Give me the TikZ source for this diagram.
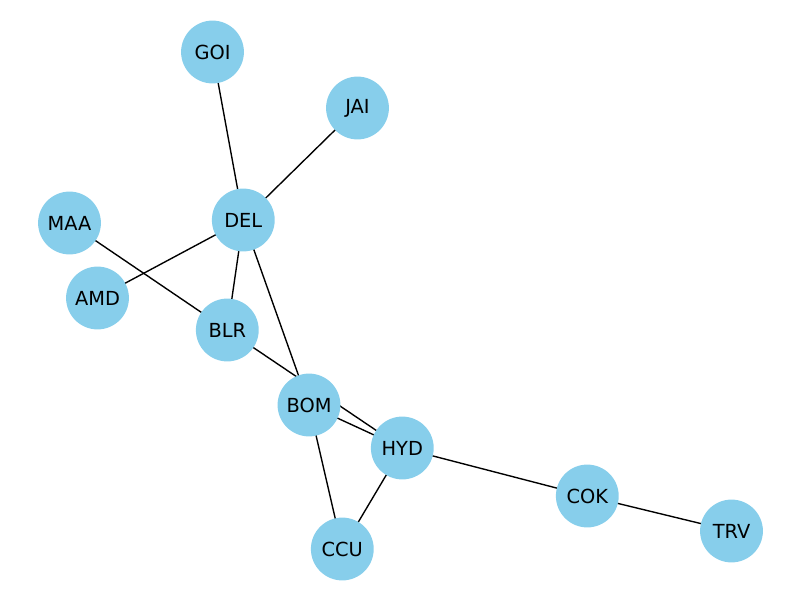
\documentclass[tikz,border=0pt]{standalone}
\usepackage{fontspec}
\setmainfont{DejaVu Sans}
\usetikzlibrary{backgrounds}
\definecolor{skyblue}{HTML}{87CEEB}

\begin{document}
\begin{tikzpicture}[x=0.254mm,y=-0.254mm]
				\tikzstyle{every node}=[font=\fontsize{14}{16}\selectfont]
				\tikzstyle{city}=[circle, fill=skyblue, minimum size=45.4pt, inner sep=0pt]
				\tikzstyle{route}=[line width=1pt, color=black]
				
				\useasboundingbox (0,0) rectangle (800,600);
				
				% airports
				\node[city] (GOI) at (212.5,52) {GOI};
				\node[city] (JAI) at (357.5,108) {JAI};
				\node[city] (MAA) at (69.5,223) {MAA};
				\node[city] (DEL) at (243.3,220) {DEL};
				\node[city] (AMD) at (97.5,298) {AMD};
				\node[city] (BLR) at (227.3,330) {BLR};
				\node[city] (BOM) at (309,405) {BOM};
				\node[city] (HYD) at (402.3,448) {HYD};
				\node[city] (CCU) at (342.3,549) {CCU};
				\node[city] (COK) at (587.3,496) {COK};
				\node[city] (TRV) at (731.5,531) {TRV};
				
				% routes
				\begin{pgfonlayer}{background}
				\draw [route] (GOI.center) -- (DEL.center);
				\draw [route] (JAI.center) -- (DEL.center);
				\draw [route] (AMD.center) -- (DEL.center);
				\draw [route] (DEL.center) -- (BLR.center);
				\draw [route] (DEL.center) -- (BOM.center);
				\draw [route] (MAA.center) -- (BLR.center);
				\draw [route] (BLR.center) -- (HYD.center);
				\draw [route] (BOM.center) -- (HYD.center);
				\draw [route] (BOM.center) -- (CCU.center);
				\draw [route] (HYD.center) -- (CCU.center);
				\draw [route] (HYD.center) -- (COK.center);
				\draw [route] (COK.center) -- (TRV.center);
				\end{pgfonlayer}
				
\end{tikzpicture}
\end{document}
